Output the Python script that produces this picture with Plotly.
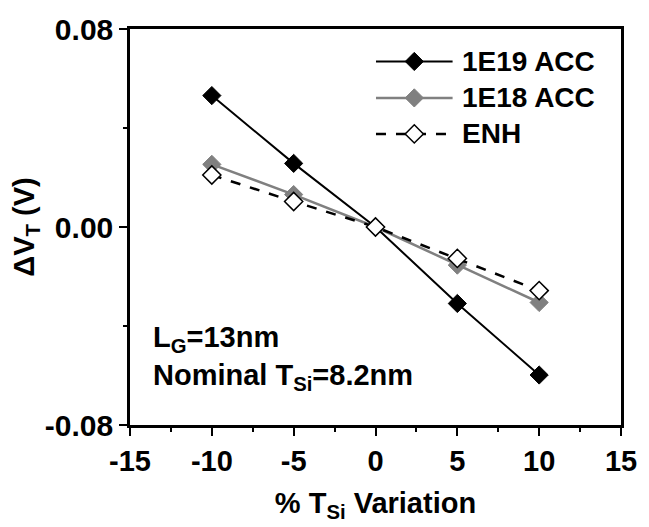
import plotly.graph_objects as go

# Silicon thickness variation (%) and threshold-voltage shift (V)
tsi_variation = [-10, -5, 0, 5, 10]
dvt_1e19_acc = [0.0531, 0.0257, 0.0, -0.0309, -0.0598]
dvt_1e18_acc = [0.0253, 0.0131, 0.0, -0.0154, -0.0305]
dvt_enh = [0.0210, 0.0103, 0.0, -0.0127, -0.0257]

series_names = ["1E19 ACC", "1E18 ACC", "ENH"]
series_values = [dvt_1e19_acc, dvt_1e18_acc, dvt_enh]

x_ticks = [-15, -10, -5, 0, 5, 10, 15]
x_tick_labels = ["-15", "-10", "-5", "0", "5", "10", "15"]
y_ticks = [-0.08, 0.0, 0.08]
y_tick_labels = ["-0.08", "0.00", "0.08"]

GRAY = "#808080"
FONT = "Liberation Sans"

styles = [
    dict(line=dict(color="black", width=2),
         marker=dict(symbol="diamond", size=14, color="black",
                     line=dict(color="black", width=1))),
    dict(line=dict(color=GRAY, width=2.5),
         marker=dict(symbol="diamond", size=14, color=GRAY,
                     line=dict(color=GRAY, width=1))),
    dict(line=dict(color="black", width=2.5, dash="10px,10px"),
         marker=dict(symbol="diamond", size=14, color="white",
                     line=dict(color="black", width=1.5))),
]

fig = go.Figure()

for name, vals, st in zip(series_names, series_values, styles):
    fig.add_trace(go.Scatter(
        x=tsi_variation, y=vals, name=name, mode="lines+markers",
        line=st["line"], marker=st["marker"], showlegend=False,
    ))

# Hand-built legend keys on an overlay axis spanning the plot area (0..1)
key_x0, key_xc, key_x1 = 0.501, 0.579, 0.657
key_rows = [0.918, 0.826, 0.735]
label_x = 0.672
for name, yk, st in zip(series_names, key_rows, styles):
    fig.add_trace(go.Scatter(
        x=[key_x0, key_x1], y=[yk, yk], mode="lines", line=st["line"],
        xaxis="x2", yaxis="y2", showlegend=False, hoverinfo="skip",
    ))
    fig.add_trace(go.Scatter(
        x=[key_xc], y=[yk], mode="markers", marker=st["marker"],
        xaxis="x2", yaxis="y2", showlegend=False, hoverinfo="skip",
    ))
    fig.add_annotation(
        x=label_x, y=yk, xref="paper", yref="paper", text=name,
        showarrow=False, xanchor="left", yanchor="middle",
        font=dict(family=FONT, size=28, color="black", weight="bold"),
    )

# Device description text
fig.add_annotation(
    x=0.042, y=0.268, xref="paper", yref="paper",
    text="L<sub>G</sub>=13nm<br>Nominal T<sub>Si</sub>=8.2nm",
    showarrow=False, xanchor="left", yanchor="top", align="left",
    font=dict(family=FONT, size=29, color="black", weight="bold"),
)

axis_common = dict(
    showline=True, linecolor="black", linewidth=2.5, mirror=True,
    showgrid=False, zeroline=False, ticks="outside", ticklen=8,
    tickwidth=2, tickcolor="black",
)

fig.update_layout(
    width=649, height=527,
    margin=dict(l=130, r=20, t=24, b=99),
    paper_bgcolor="white", plot_bgcolor="white",
    font=dict(family=FONT, color="black"),
    xaxis=dict(
        range=[-15, 15], tickvals=x_ticks, ticktext=x_tick_labels,
        tickfont=dict(family=FONT, size=29, weight="bold"),
        minor=dict(ticks="outside", ticklen=4, tickwidth=2,
                   tickcolor="black", dtick=2.5),
        title=dict(text="% T<sub>Si</sub> Variation",
                   font=dict(family=FONT, size=29, weight="bold"),
                   standoff=18),
        **axis_common,
    ),
    yaxis=dict(
        range=[-0.08, 0.08], tickvals=y_ticks, ticktext=y_tick_labels,
        tickfont=dict(family=FONT, size=30, weight="bold"),
        minor=dict(ticks="outside", ticklen=4, tickwidth=2,
                   tickcolor="black", dtick=0.04),
        title=dict(text="ΔV<sub>T</sub> (V)",
                   font=dict(family=FONT, size=29, weight="bold"),
                   standoff=2),
        **axis_common,
    ),
    xaxis2=dict(range=[0, 1], overlaying="x", visible=False,
                fixedrange=True),
    yaxis2=dict(range=[0, 1], overlaying="y", visible=False,
                fixedrange=True),
)

fig.write_html("out.html")
